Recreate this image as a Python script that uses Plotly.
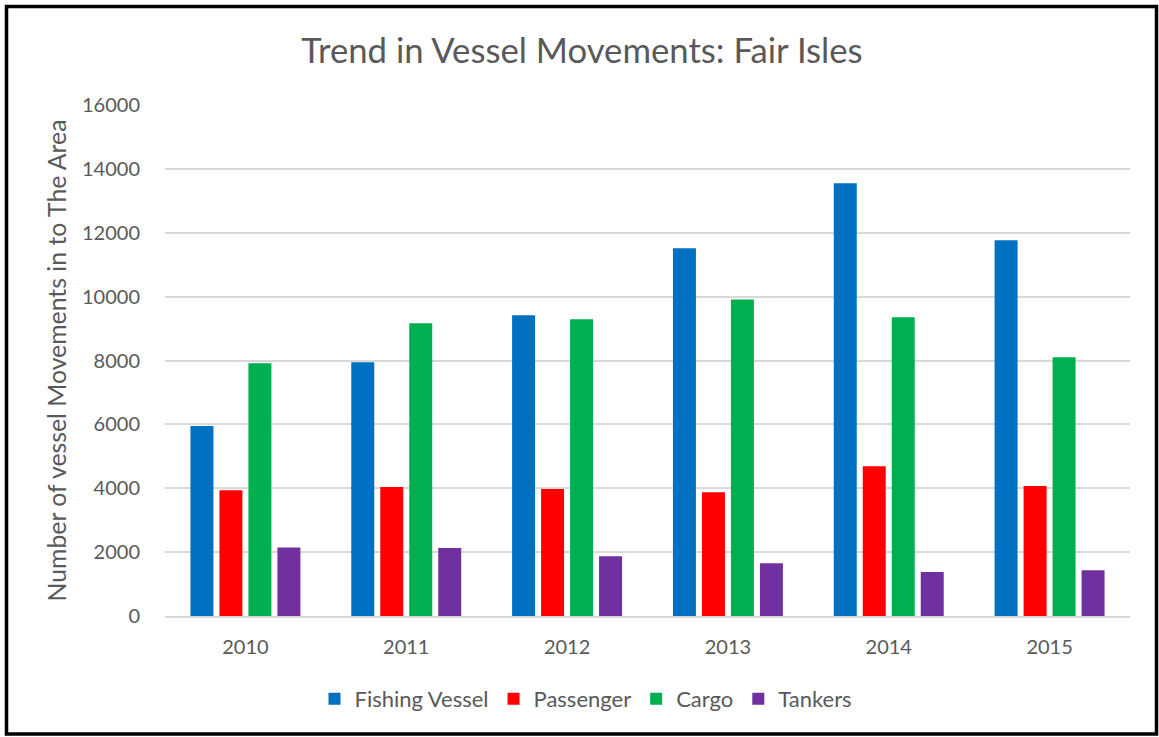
import plotly.graph_objects as go

years = ["2010", "2011", "2012", "2013", "2014", "2015"]
fishing = [5950, 7950, 9420, 11520, 13560, 11770]
passenger = [3940, 4040, 3980, 3880, 4690, 4070]
cargo = [7920, 9170, 9300, 9920, 9360, 8110]
tankers = [2150, 2130, 1870, 1650, 1380, 1430]

series = [
    ("Fishing Vessel", fishing, "#0070C0"),
    ("Passenger", passenger, "#FF0000"),
    ("Cargo", cargo, "#00B050"),
    ("Tankers", tankers, "#7030A0"),
]

fig = go.Figure()
for name, vals, col in series:
    fig.add_trace(go.Bar(x=years, y=vals, name=name, marker=dict(color=col, line=dict(width=0))))

W, H = 1159, 737
L, R, T, B = 165, 29, 105, 121
pw, ph = W - L - R, H - T - B

def px(x):
    return (x - L) / pw

def py(y):
    return (H - B - y) / ph

font_family = "Lato, Open Sans, sans-serif"
fig.update_layout(
    width=W, height=H,
    margin=dict(l=L, r=R, t=T, b=B, autoexpand=False),
    paper_bgcolor="white", plot_bgcolor="white",
    barmode="group", bargap=0.279, bargroupgap=0.207,
    font=dict(family=font_family, color="#595959"),
    title=dict(text="Trend in Vessel Movements: Fair Isles", x=px(582), xanchor="center",
               xref="paper", y=1 - 51 / H, yanchor="middle", font=dict(size=34.7, color="#595959")),
    xaxis=dict(showgrid=False, showline=True, linecolor="#d9d9d9", linewidth=1.5,
               tickfont=dict(size=20), ticks="", ticklabelstandoff=12),
    yaxis=dict(range=[0, 16010], tickvals=list(range(0, 16001, 2000)), tickformat="d",
               showgrid=True, gridcolor="#d9d9d9", gridwidth=1.5,
               zeroline=False, tickfont=dict(size=20), ticklabelstandoff=24,
               title=dict(text="Number of vessel Movements in to The Area", font=dict(size=24.8), standoff=8)),
    legend=dict(orientation="h", x=px(586), xanchor="center", y=py(699), yanchor="middle",
                font=dict(size=22), itemwidth=30, traceorder="normal"),
    shapes=[dict(type="rect", xref="paper", yref="paper",
                 x0=px(6.5), x1=px(1156.5), y0=py(734), y1=py(6.5),
                 line=dict(color="black", width=3.5), fillcolor="rgba(0,0,0,0)", layer="above")],
)

fig.write_html("out.html", config={"displayModeBar": False},
               post_script="document.body.style.margin='0';document.body.style.overflow='hidden';")
